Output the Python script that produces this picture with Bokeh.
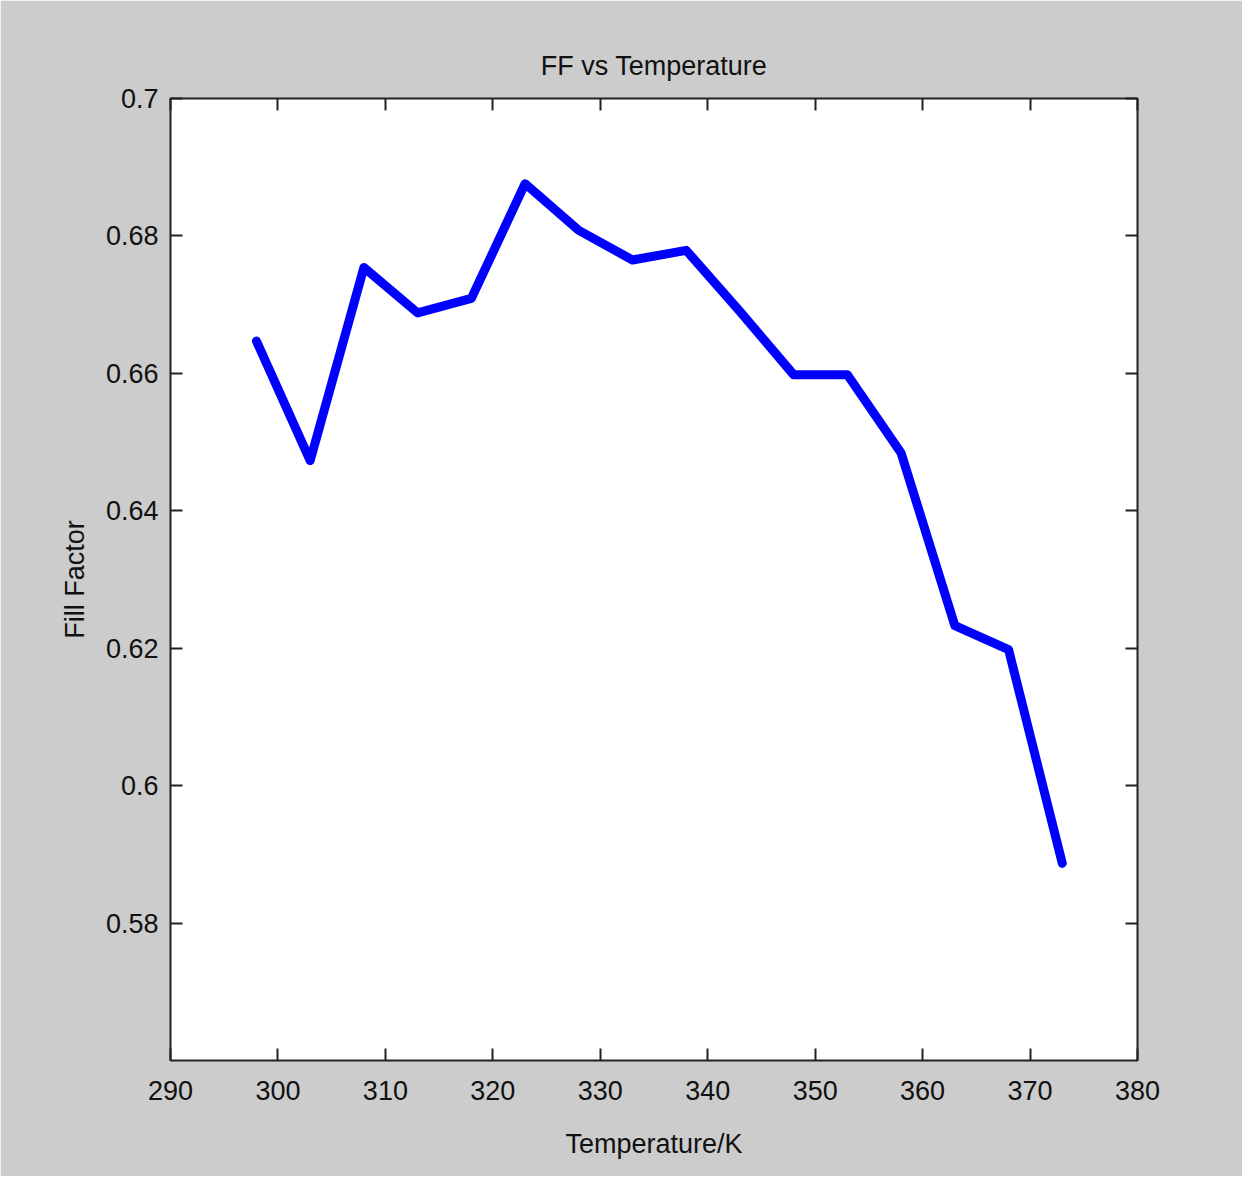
from bokeh.plotting import figure
from bokeh.models import FixedTicker, LinearAxis, Range1d
from bokeh.embed import file_html
from bokeh.resources import INLINE

temperature = [298, 303, 308, 313, 318, 323, 328, 333, 338, 343, 348, 353, 358, 363, 368, 373]
fill_factor = [0.6647, 0.6473, 0.6754, 0.6688, 0.6709, 0.6876, 0.6808, 0.6765, 0.6779,
               0.6690, 0.6598, 0.6598, 0.6484, 0.6233, 0.6198, 0.5887]
x_ticks = [290, 300, 310, 320, 330, 340, 350, 360, 370, 380]
y_ticks = [0.58, 0.60, 0.62, 0.64, 0.66, 0.68, 0.70]
y_tick_labels = ["0.58", "0.6", "0.62", "0.64", "0.66", "0.68", "0.7"]

FONT = "Liberation Sans"
FS = "27px"
BG = "#cccccc"
INK = "#111111"

p = figure(width=1242, height=1176, output_backend="svg", toolbar_location=None,
           x_range=Range1d(290, 380), y_range=Range1d(0.56, 0.70),
           min_border_left=170, min_border_right=105, min_border_top=98, min_border_bottom=116,
           background_fill_color="white", border_fill_color=BG)
p.title.text = "FF vs Temperature"
p.title.align = "center"
p.title.text_font = FONT
p.title.text_font_size = FS
p.title.text_font_style = "normal"
p.title.text_color = INK
p.title.standoff = 36
p.grid.visible = False
p.outline_line_color = "#222222"
p.outline_line_width = 2
p.line(temperature, fill_factor, line_color="#0000ff", line_width=9, line_join="round", line_cap="round")

label_overrides = {t: s for t, s in zip(y_ticks, y_tick_labels)}

bottom = p.below[0]
left = p.left[0]
bottom.ticker = FixedTicker(ticks=x_ticks)
bottom.axis_label = "Temperature/K"
bottom.major_label_standoff = 20
bottom.axis_label_standoff = 26
left.ticker = FixedTicker(ticks=y_ticks)
left.major_label_overrides = label_overrides
left.axis_label = "Fill Factor"
left.major_label_standoff = 12
left.axis_label_standoff = 13
for ax in [bottom, left]:
    ax.major_label_text_font_size = FS
    ax.axis_label_text_font_size = FS

top = LinearAxis(ticker=FixedTicker(ticks=x_ticks))
right = LinearAxis(ticker=FixedTicker(ticks=y_ticks))
for ax in [top, right]:
    ax.major_label_text_alpha = 0
    ax.major_label_text_font_size = "1px"
    ax.major_label_standoff = 0
p.add_layout(top, "above")
p.add_layout(right, "right")

for ax in [bottom, left, top, right]:
    ax.axis_line_color = None
    ax.major_tick_in = 12
    ax.major_tick_out = 0
    ax.major_tick_line_color = "#222222"
    ax.major_tick_line_width = 2
    ax.minor_tick_line_color = None
    ax.major_label_text_font = FONT
    ax.axis_label_text_font = FONT
    ax.axis_label_text_font_style = "normal"
    ax.axis_label_text_color = INK
    ax.major_label_text_color = INK

open("out.html", "w").write(file_html(p, INLINE))
